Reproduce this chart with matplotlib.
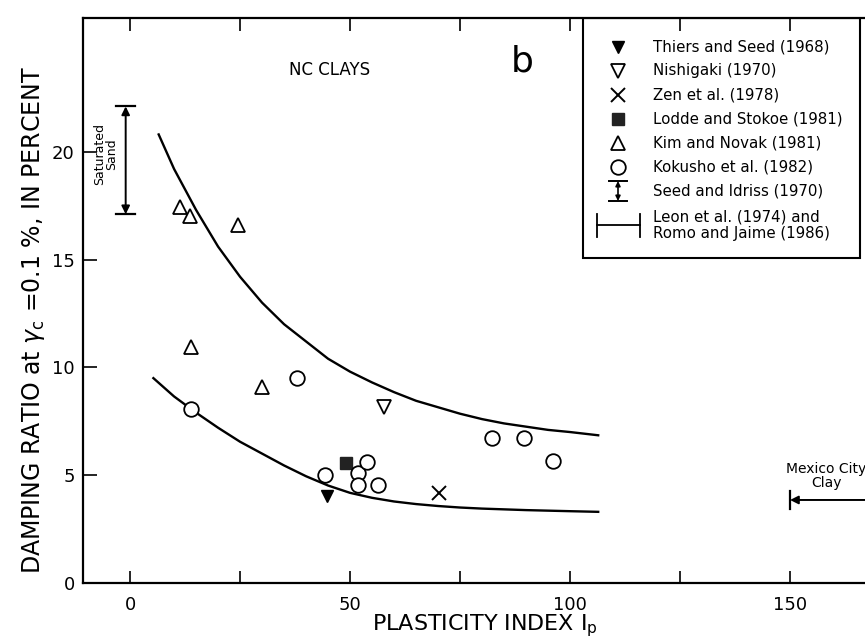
import matplotlib
matplotlib.use("Agg")
import matplotlib.pyplot as plt
from matplotlib.patches import Rectangle

plt.rcParams['font.family'] = ['DejaVu Sans']
plt.rcParams['mathtext.fontset'] = 'dejavusans'

# ---------------- data ----------------
thiers_ip = [44.7]
thiers_d = [4.05]
nishigaki_ip = [57.7]
nishigaki_d = [8.15]
zen_ip = [70.3]
zen_d = [4.16]
lodde_ip = [49.1]
lodde_d = [5.55]
kim_ip = [11.4, 13.6, 24.5, 13.9, 30.0]
kim_d = [17.45, 17.0, 16.6, 10.95, 9.1]
kokusho_ip = [13.9, 37.9, 44.2, 51.7, 53.8, 51.7, 56.3, 82.3, 89.6, 96.1]
kokusho_d = [8.06, 9.5, 5.01, 5.09, 5.6, 4.55, 4.55, 6.71, 6.74, 5.68]

# upper and lower bounding curves
upper_ip = [6.5, 10, 15, 20, 25, 30, 35, 40, 45, 50, 55, 60, 65, 70, 75, 80, 85, 90, 95, 100, 106.4]
upper_d = [20.8, 19.2, 17.3, 15.6, 14.2, 13.0, 12.0, 11.2, 10.4, 9.8, 9.3, 8.85, 8.45,
           8.15, 7.85, 7.6, 7.4, 7.25, 7.1, 7.0, 6.85]
lower_ip = [5.3, 10, 15, 20, 25, 30, 35, 40, 45, 50, 55, 60, 65, 70, 75, 80, 90, 100, 106.4]
lower_d = [9.5, 8.65, 7.9, 7.2, 6.55, 6.0, 5.45, 4.95, 4.52, 4.18, 3.95, 3.78, 3.66,
           3.57, 3.5, 3.45, 3.38, 3.33, 3.3]

# Seed and Idriss (1970): saturated sand range
sand_ip = -1.0
sand_range = [17.1, 22.1]
# Leon et al. (1974) / Romo and Jaime (1986): Mexico City clay
mexico_ip_range = [150, 200]
mexico_d = 3.85

x_ticks = [0, 25, 50, 75, 100, 125, 150]
x_ticklabels = ['0', '', '50', '', '100', '', '150']
y_ticks = [0, 5, 10, 15, 20]
y_ticklabels = ['0', '5', '10', '15', '20']

legend_labels = ['Thiers and Seed (1968)', 'Nishigaki (1970)', 'Zen et al. (1978)',
                 'Lodde and Stokoe (1981)', 'Kim and Novak (1981)', 'Kokusho et al. (1982)',
                 'Seed and Idriss (1970)', 'Leon et al. (1974) and\nRomo and Jaime (1986)']

# ---------------- figure ----------------
W, H = 865, 642
fig = plt.figure(figsize=(W / 100, H / 100), dpi=100)
L, R, T, B = 83, 880, 18, 583
ax = fig.add_axes([L / W, (H - B) / H, (R - L) / W, (B - T) / H])
ax.set_xlim(-10.7, 170.45)
ax.set_ylim(0, 26.2)

def fx(px):
    return (px - L) / (R - L)

def fy(py):
    return (B - py) / (B - T)

k = 'black'
lw_m = 1.3
ax.plot(upper_ip, upper_d, color=k, lw=1.7, zorder=2)
ax.plot(lower_ip, lower_d, color=k, lw=1.7, zorder=2)

ax.plot(thiers_ip, thiers_d, 'v', ms=9, color=k, zorder=3)
ax.plot(nishigaki_ip, nishigaki_d, 'v', ms=10, mfc='white', mec=k, mew=lw_m, zorder=3)
ax.plot(zen_ip, zen_d, 'x', ms=10, color=k, mew=1.4, zorder=3)
ax.plot(lodde_ip, lodde_d, 's', ms=9, color='#222222', zorder=3)
ax.plot(kim_ip, kim_d, '^', ms=10, mfc='white', mec=k, mew=lw_m, zorder=3)
ax.plot(kokusho_ip, kokusho_d, 'o', ms=10.5, mfc='white', mec=k, mew=lw_m, zorder=3)

# saturated sand bar
ax.annotate('', xy=(sand_ip, sand_range[1]), xytext=(sand_ip, sand_range[0]),
            arrowprops=dict(arrowstyle='<|-|>', color=k, lw=1.4, mutation_scale=12,
                            shrinkA=0, shrinkB=0))
ax.plot([sand_ip - 2.2, sand_ip + 2.2], [sand_range[1]] * 2, color=k, lw=1.6)
ax.plot([sand_ip - 2.2, sand_ip + 2.2], [sand_range[0]] * 2, color=k, lw=1.6)
ax.text(sand_ip - 4.6, sum(sand_range) / 2 + 0.3, 'Saturated\nSand', rotation=90,
        ha='center', va='center', fontsize=9, linespacing=0.95)

# Mexico City clay
ax.annotate('', xy=(mexico_ip_range[0], mexico_d), xytext=(mexico_ip_range[1], mexico_d),
            arrowprops=dict(arrowstyle='-|>', color=k, lw=1.4, mutation_scale=12,
                            shrinkA=0, shrinkB=0), annotation_clip=False)
ax.plot([mexico_ip_range[0]] * 2, [mexico_d - 0.4, mexico_d + 0.4], color=k, lw=1.6)
ax.text(158.2, mexico_d + 0.45, 'Mexico City\nClay', ha='center', va='bottom',
        fontsize=10, linespacing=1.0)

ax.text(fx(330), fy(70), 'NC CLAYS', transform=ax.transAxes, ha='center', va='center',
        fontsize=12)
ax.text(fx(522), fy(62), 'b', transform=ax.transAxes, ha='center', va='center',
        fontsize=26)

# ---------------- manual legend ----------------
ta = ax.transAxes
box_bottom = 258
ax.add_patch(Rectangle((fx(583), fy(box_bottom)), fx(860) - fx(583), fy(T) - fy(box_bottom),
                       transform=ta, fill=False, ec=k, lw=1.5, zorder=4))
mx = fx(618)
tx = fx(653)
rows = [47 + 24 * i for i in range(7)]
ax.plot([mx], [fy(rows[0])], 'v', ms=9, color=k, transform=ta, zorder=5)
ax.plot([mx], [fy(rows[1])], 'v', ms=10, mfc='white', mec=k, mew=lw_m, transform=ta, zorder=5)
ax.plot([mx], [fy(rows[2])], 'x', ms=10, color=k, mew=1.4, transform=ta, zorder=5)
ax.plot([mx], [fy(rows[3])], 's', ms=9, color='#222222', transform=ta, zorder=5)
ax.plot([mx], [fy(rows[4])], '^', ms=10, mfc='white', mec=k, mew=lw_m, transform=ta, zorder=5)
ax.plot([mx], [fy(rows[5])], 'o', ms=10.5, mfc='white', mec=k, mew=lw_m, transform=ta, zorder=5)
# Seed and Idriss symbol
r6 = rows[6]
ax.annotate('', xy=(mx, fy(r6 - 10)), xytext=(mx, fy(r6 + 10)), xycoords=ta, textcoords=ta,
            arrowprops=dict(arrowstyle='<|-|>', color=k, lw=1.2, mutation_scale=7,
                            shrinkA=0, shrinkB=0), zorder=5)
ax.plot([fx(609), fx(627)], [fy(r6 - 10)] * 2, color=k, lw=1.4, transform=ta, zorder=5)
ax.plot([fx(609), fx(627)], [fy(r6 + 10)] * 2, color=k, lw=1.4, transform=ta, zorder=5)
# Leon / Romo symbol
r7 = 225
ax.plot([fx(597), fx(640)], [fy(r7)] * 2, color=k, lw=1.3, transform=ta, zorder=5)
ax.plot([fx(597)] * 2, [fy(r7 - 11), fy(r7 + 12)], color=k, lw=1.3, transform=ta, zorder=5)
ax.plot([fx(640)] * 2, [fy(r7 - 11), fy(r7 + 12)], color=k, lw=1.3, transform=ta, zorder=5)

for i, lab in enumerate(legend_labels):
    yy = rows[i] if i < 7 else r7
    ax.text(tx, fy(yy), lab, transform=ta, ha='left', va='center', fontsize=10.8,
            linespacing=1.1, zorder=6)

# ---------------- axes styling ----------------
ax.spines['right'].set_visible(False)
for s in ['left', 'bottom', 'top']:
    ax.spines[s].set_linewidth(1.6)
ax.set_xticks(x_ticks)
ax.set_xticklabels(x_ticklabels)
ax.set_yticks(y_ticks)
ax.set_yticklabels(y_ticklabels)
ax.tick_params(axis='x', direction='in', length=9, width=1.2, top=True, labelsize=13, pad=9)
ax.tick_params(axis='y', direction='in', length=10, width=1.2, labelsize=13, pad=6)

ax.set_xlabel('PLASTICITY INDEX I$_\\mathrm{p}$', fontsize=16)
ax.xaxis.set_label_coords(0.504, -0.052)
ax.set_ylabel('DAMPING RATIO at $\\gamma_\\mathrm{c}$ =0.1 %, IN PERCENT', fontsize=17)
ax.yaxis.set_label_coords(-0.045, 0.465)

fig.savefig('out.png', dpi=100)
